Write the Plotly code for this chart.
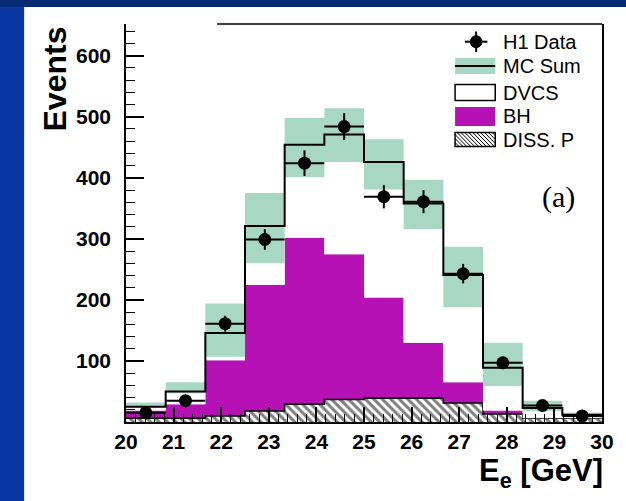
import plotly.graph_objects as go

# ---------------- data ----------------
EDGES = [20.0, 20.833, 21.667, 22.5, 23.333, 24.167, 25.0, 25.833, 26.667, 27.5, 28.333, 29.167, 30.0]
H1_DATA = [15, 35, 161, 299, 424, 484, 369, 361, 243, 97, 27, 10]
H1_ERR = [4, 6, 13, 17, 21, 22, 19, 19, 16, 10, 5, 3]
DISS_P = [6, 6, 10, 18, 29, 37, 39, 39, 31, 13, 6, 6]
BH = [13, 23, 91, 207, 273, 238, 165, 91, 34, 6, 0, 0]
DVCS = [6, 21, 45, 96, 152, 196, 222, 228, 176, 70, 17, 6]
BAND_LO = [24, 47, 107, 260, 401, 426, 381, 316, 188, 59, 18, 10]
BAND_HI = [32, 65, 194, 375, 498, 514, 463, 397, 287, 130, 35, 15]
X_TICKS = list(range(20, 31))
Y_TICKS = [100, 200, 300, 400, 500, 600]

# ---------------- derived ----------------
centers = [(EDGES[i] + EDGES[i + 1]) / 2 for i in range(len(EDGES) - 1)]
half_w = (EDGES[1] - EDGES[0]) / 2
stack_diss = DISS_P
stack_bh = [a + b for a, b in zip(DISS_P, BH)]
mc_sum = [a + b for a, b in zip(stack_bh, DVCS)]


def steps(v):
    return list(v) + [v[-1]]


MAGENTA = "#b511b5"
GREEN = "#a8d8c4"
FONT = "Liberation Sans, Arial, Helvetica, sans-serif"

fig = go.Figure()

# DISS. P (hatched)
fig.add_trace(go.Scatter(
    x=EDGES, y=steps(stack_diss), mode="lines", line=dict(shape="hv", color="black", width=1.5),
    fill="tozeroy", fillcolor="white",
    fillpattern=dict(shape="\\", fgcolor="black", bgcolor="white", size=6, solidity=0.5),
    name="DISS. P", showlegend=False))
# BH (magenta, stacked on DISS)
fig.add_trace(go.Scatter(
    x=EDGES, y=steps(stack_bh), mode="lines", line=dict(shape="hv", color=MAGENTA, width=0),
    fill="tonexty", fillcolor=MAGENTA, name="BH", showlegend=False))
# DVCS (white, stacked on BH)
fig.add_trace(go.Scatter(
    x=EDGES, y=steps(mc_sum), mode="lines", line=dict(shape="hv", color="white", width=0),
    fill="tonexty", fillcolor="white", name="DVCS", showlegend=False))
# MC uncertainty band
fig.add_trace(go.Scatter(
    x=EDGES, y=steps(BAND_LO), mode="lines", line=dict(shape="hv", width=0),
    showlegend=False, hoverinfo="skip"))
fig.add_trace(go.Scatter(
    x=EDGES, y=steps(BAND_HI), mode="lines", line=dict(shape="hv", width=0),
    fill="tonexty", fillcolor=GREEN, showlegend=False, hoverinfo="skip"))
# MC sum line
fig.add_trace(go.Scatter(
    x=EDGES, y=steps(mc_sum), mode="lines", line=dict(shape="hv", color="black", width=2),
    name="MC Sum", showlegend=False))
# H1 data
fig.add_trace(go.Scatter(
    x=centers, y=H1_DATA, mode="markers",
    marker=dict(color="black", size=13, symbol="circle"),
    error_y=dict(type="data", array=H1_ERR, color="black", thickness=2, width=0),
    error_x=dict(type="constant", value=half_w, color="black", thickness=2, width=0),
    name="H1 Data", showlegend=False))

# ---------------- layout helpers (pixel -> paper) ----------------
L, R, T, B = 126, 612, 24, 422
W_, H_ = R - L, B - T


def px(x):
    return (x - L) / W_


def py(y):
    return (B - y) / H_


shapes = []
# blue slide background: white panel
shapes.append(dict(type="rect", xref="paper", yref="paper", layer="below",
                   x0=px(22), x1=px(640), y0=py(515), y1=py(7),
                   fillcolor="white", line=dict(width=0)))
# darker top strip
shapes.append(dict(type="rect", xref="paper", yref="paper", layer="below",
                   x0=px(-10), x1=px(640), y0=py(7), y1=py(-10),
                   fillcolor="#062a74", line=dict(width=0)))
# partial top frame line
shapes.append(dict(type="line", xref="paper", yref="paper", x0=px(219), x1=1, y0=1, y1=1,
                   line=dict(color="black", width=1.5)))

# ---- manual legend ----
sx0, sx1 = 462, 503
# H1 Data symbol
shapes.append(dict(type="line", xref="paper", yref="paper", x0=px(472), x1=px(495), y0=py(41.7), y1=py(41.7),
                   line=dict(color="black", width=2)))
shapes.append(dict(type="line", xref="paper", yref="paper", x0=px(483.5), x1=px(483.5), y0=py(31.5), y1=py(52),
                   line=dict(color="black", width=2)))
shapes.append(dict(type="circle", xref="paper", yref="paper", x0=px(477.5), x1=px(489.5), y0=py(35.7), y1=py(47.7),
                   fillcolor="black", line=dict(color="black", width=1)))
# MC Sum symbol
shapes.append(dict(type="rect", xref="paper", yref="paper", x0=px(sx0), x1=px(sx1), y0=py(74), y1=py(58),
                   fillcolor=GREEN, line=dict(width=0)))
shapes.append(dict(type="line", xref="paper", yref="paper", x0=px(sx0), x1=px(sx1), y0=py(66), y1=py(66),
                   line=dict(color="black", width=2)))
# DVCS symbol
shapes.append(dict(type="rect", xref="paper", yref="paper", x0=px(sx0), x1=px(sx1), y0=py(100.5), y1=py(84.5),
                   fillcolor="white", line=dict(color="black", width=1.5)))
# BH symbol
shapes.append(dict(type="rect", xref="paper", yref="paper", x0=px(sx0), x1=px(sx1), y0=py(126), y1=py(107),
                   fillcolor=MAGENTA, line=dict(width=0)))
# DISS. P symbol (hatched)
hy0, hy1 = 132.5, 146.5
shapes.append(dict(type="rect", xref="paper", yref="paper", x0=px(sx0), x1=px(sx1), y0=py(hy1), y1=py(hy0),
                   fillcolor="white", line=dict(color="black", width=1.5)))
hx = sx0 - 14
while hx < sx1:
    xa, ya = hx, hy0
    xb, yb = hx + (hy1 - hy0), hy1
    if xa < sx0:
        ya += sx0 - xa
        xa = sx0
    if xb > sx1:
        yb -= xb - sx1
        xb = sx1
    if xb > xa:
        shapes.append(dict(type="line", xref="paper", yref="paper", x0=px(xa), x1=px(xb), y0=py(ya), y1=py(yb),
                           line=dict(color="black", width=1)))
    hx += 4

annotations = []
for label, yc in [("H1 Data", 41.7), ("MC Sum", 66), ("DVCS", 92.5), ("BH", 116.5), ("DISS. P", 139.5)]:
    annotations.append(dict(text=label, xref="paper", yref="paper", x=px(510), y=py(yc),
                            xanchor="left", yanchor="middle", showarrow=False, borderpad=0,
                            font=dict(family=FONT, size=20, color="black")))
annotations.append(dict(text="(a)", xref="paper", yref="paper", x=px(568), y=py(197),
                        xanchor="center", yanchor="middle", showarrow=False,
                        font=dict(family="Liberation Serif, Times New Roman, serif", size=30, color="black")))
annotations.append(dict(text="Events", xref="paper", yref="paper", x=px(54), y=py(79), textangle=-90,
                        xanchor="center", yanchor="middle", showarrow=False,
                        font=dict(family=FONT, size=32, color="black", weight="bold")))
annotations.append(dict(text="E<sub>e</sub> [GeV]", xref="paper", yref="paper", x=px(614), y=py(452),
                        xanchor="right", yanchor="top", showarrow=False, borderpad=0,
                        font=dict(family=FONT, size=31, color="black", weight="bold")))

fig.update_layout(
    width=626, height=501, autosize=False,
    margin=dict(l=L, r=626 - R, t=T, b=501 - B, pad=0),
    paper_bgcolor="#0a36a2", plot_bgcolor="white",
    showlegend=False,
    shapes=shapes, annotations=annotations,
    xaxis=dict(range=[20, 30], tickmode="array", tickvals=X_TICKS, ticks="inside", ticklen=15,
               tickwidth=1.5, tickcolor="black", showline=True, linecolor="black", linewidth=1.5,
               mirror=False, showgrid=False, zeroline=False,
               minor=dict(tickmode="linear", tick0=20, dtick=0.2, ticks="inside", ticklen=8,
                          tickwidth=1, tickcolor="black", showgrid=False),
               tickfont=dict(family=FONT, size=21, color="black", weight="bold")),
    yaxis=dict(range=[0, 652], tickmode="array", tickvals=Y_TICKS, ticks="inside", ticklen=18,
               tickwidth=1.5, tickcolor="black", showline=True, linecolor="black", linewidth=1.5,
               mirror=True, showgrid=False, zeroline=False, ticklabelstandoff=9,
               minor=dict(tickmode="linear", tick0=0, dtick=20, ticks="inside", ticklen=9,
                          tickwidth=1, tickcolor="black", showgrid=False),
               tickfont=dict(family=FONT, size=21, color="black", weight="bold")),
)

fig.write_html(
    "out.html",
    config={"displayModeBar": False},
    post_script="document.documentElement.style.margin='0';document.body.style.margin='0';"
                "document.body.style.padding='0';document.body.style.overflow='hidden';",
)
